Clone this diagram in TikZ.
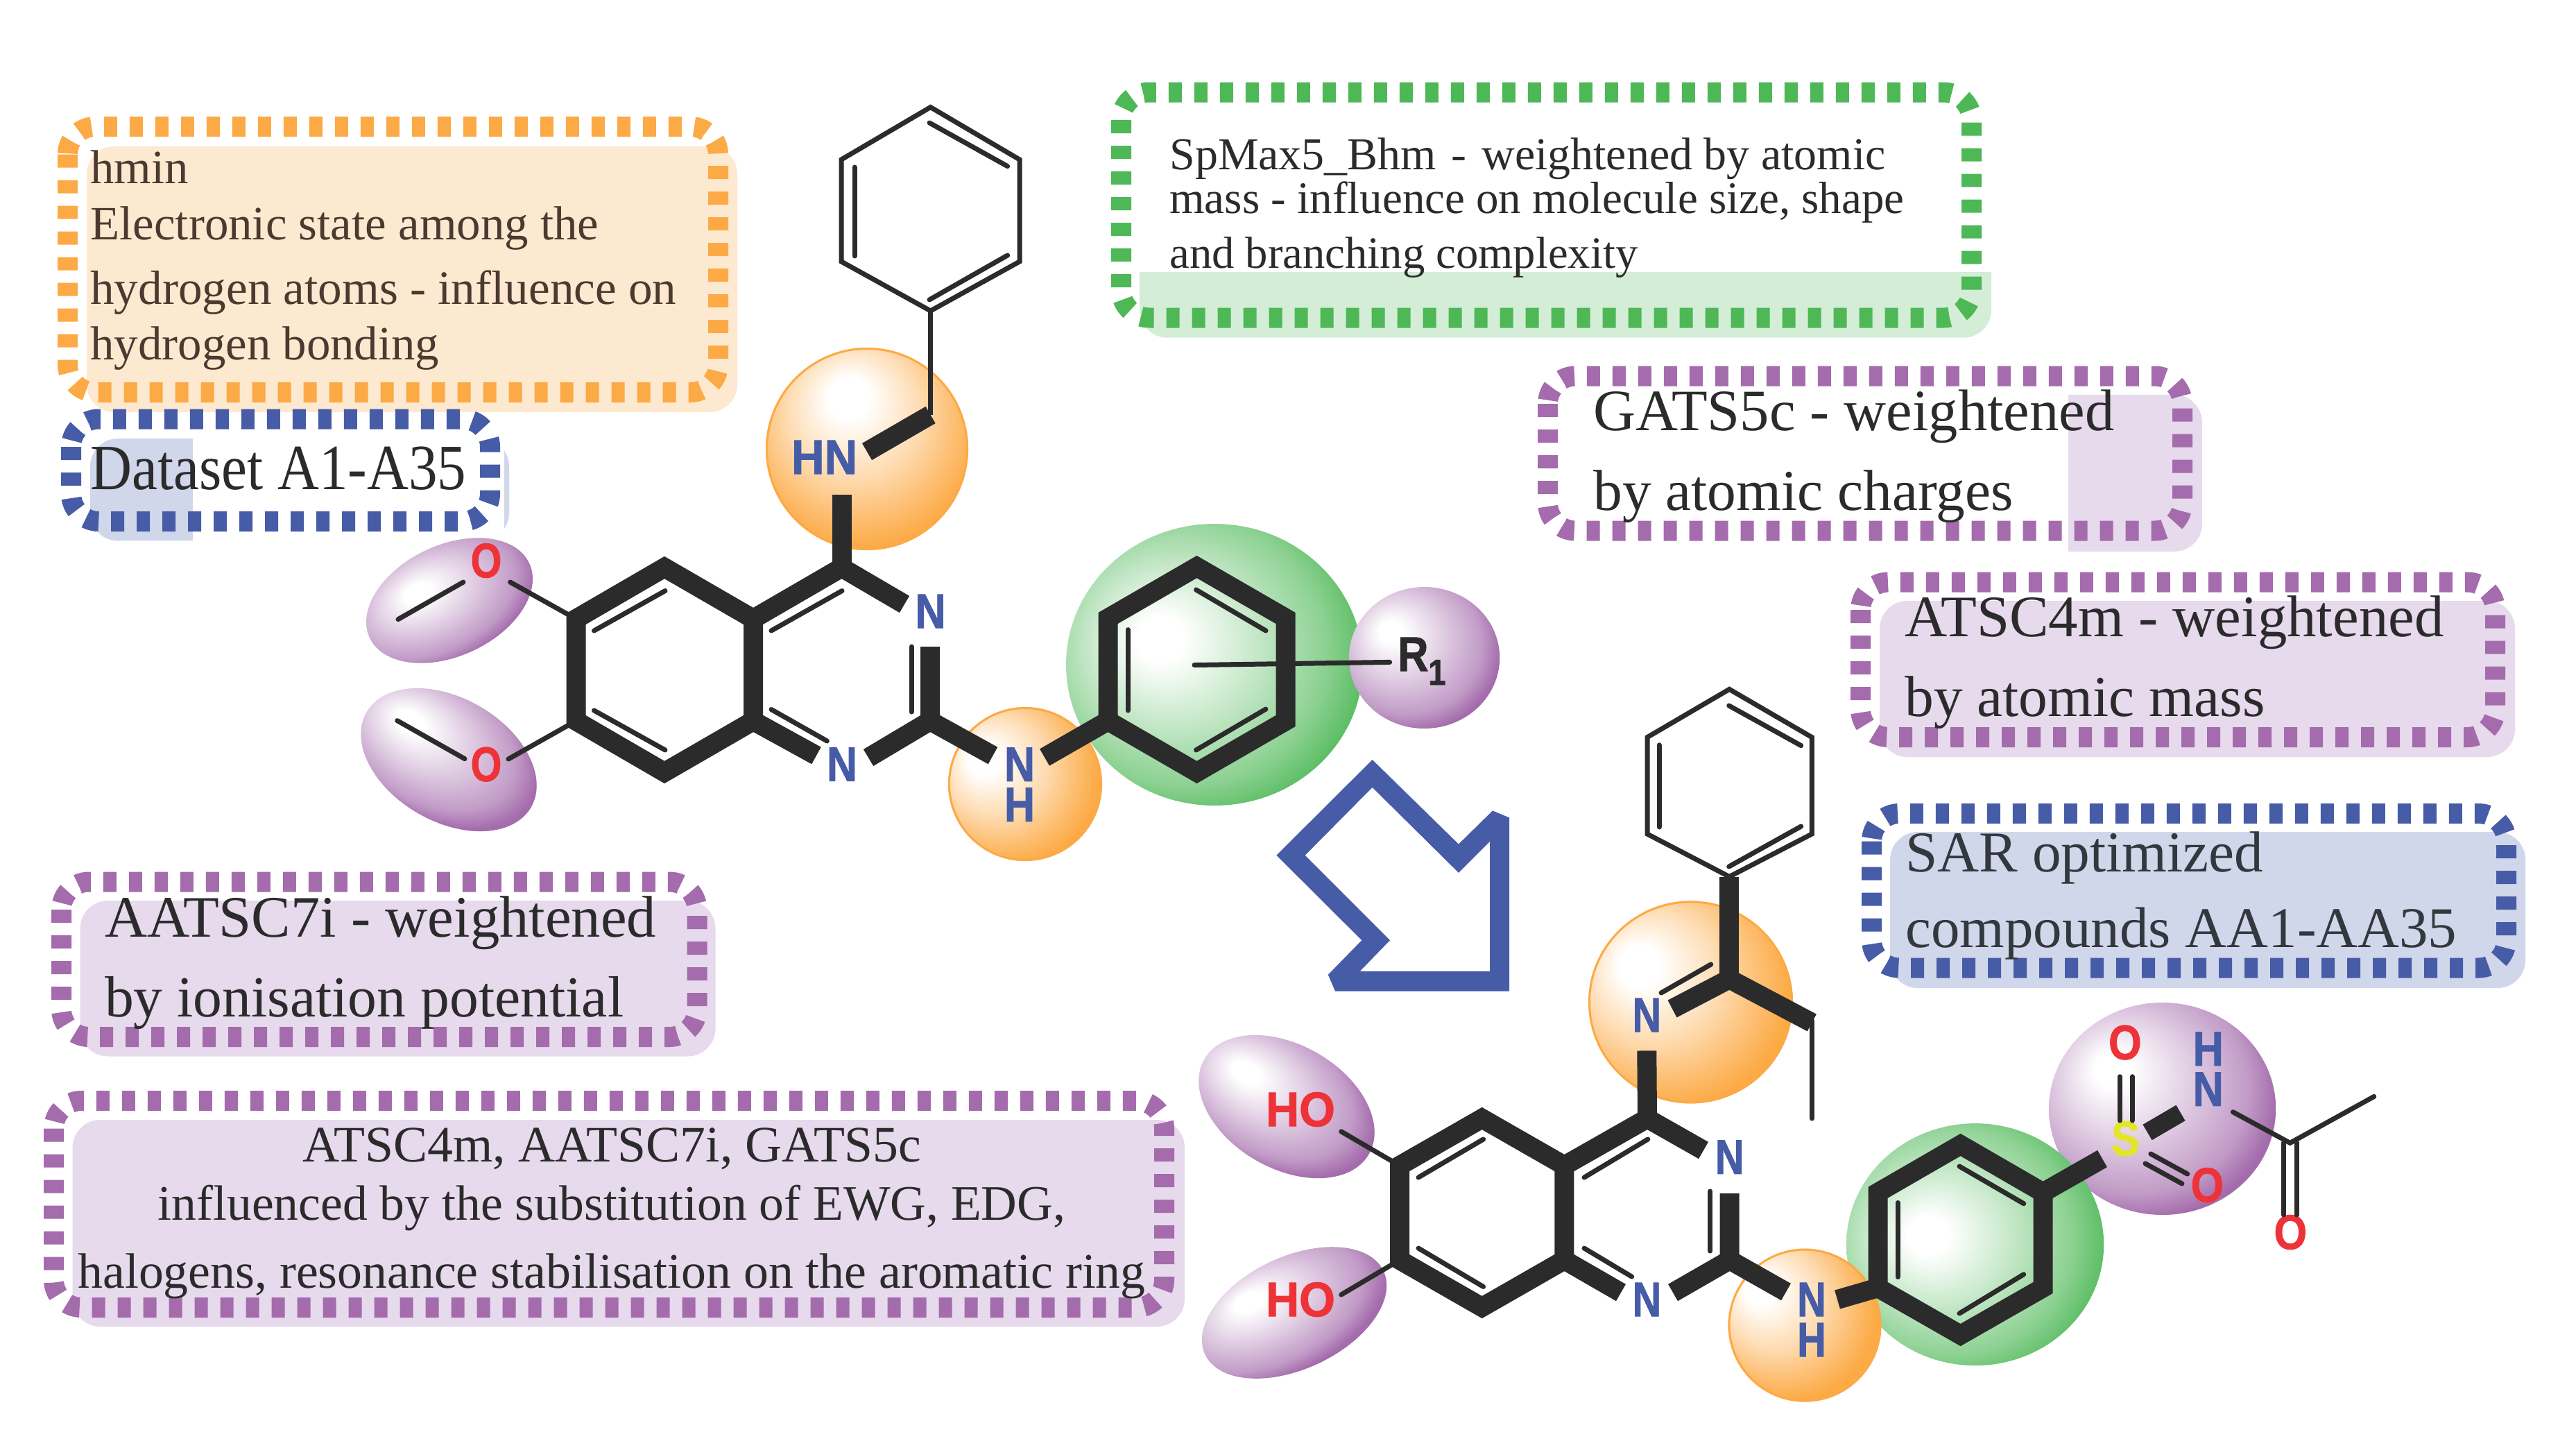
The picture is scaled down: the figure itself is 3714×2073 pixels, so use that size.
\documentclass[tikz,border=0pt]{standalone}
\usepackage{fontspec}
\usepackage{graphicx}
\setmainfont{Liberation Serif}
\newfontfamily\atomfont{Liberation Sans}[BoldFont={Liberation Sans Bold},BoldFeatures={FakeBold=1.5}]
\definecolor{cOrange}{HTML}{FCAA45}
\definecolor{cOrangeF}{HTML}{FDE9D0}
\definecolor{cBlue}{HTML}{475CA7}
\definecolor{cBlueF}{HTML}{D1D7EA}
\definecolor{cGreen}{HTML}{4EB857}
\definecolor{cGreenF}{HTML}{D3EDD6}
\definecolor{cPurple}{HTML}{A46CAC}
\definecolor{cPurpleF}{HTML}{E6DAEC}
\definecolor{cInk}{HTML}{2B2B2B}
\definecolor{cBrown}{HTML}{4A3A30}
\definecolor{cSlate}{HTML}{33383F}
\definecolor{cRed}{HTML}{EE3338}
\definecolor{cYellow}{HTML}{E3E528}
\newcommand\orangeshade[3]{\pgfdeclareradialshading{#1}{\pgfpoint{#2bp}{#3bp}}{color(0bp)=(white);color(5bp)=(white);color(16bp)=(cOrange!40!white);color(24bp)=(cOrange!75!white);color(30bp)=(cOrange);color(50bp)=(cOrange)}}
\newcommand\greenshade[3]{\pgfdeclareradialshading{#1}{\pgfpoint{#2bp}{#3bp}}{color(0bp)=(white);color(4bp)=(white);color(14bp)=(cGreen!32!white);color(24bp)=(cGreen!65!white);color(31bp)=(cGreen);color(50bp)=(cGreen)}}
\newcommand\purpleshade[3]{\pgfdeclareradialshading{#1}{\pgfpoint{#2bp}{#3bp}}{color(0bp)=(white);color(4bp)=(white);color(15bp)=(cPurple!35!white);color(25bp)=(cPurple!68!white);color(30bp)=(cPurple);color(50bp)=(cPurple)}}
\orangeshade{oA}{-5}{14}
\orangeshade{oB}{-15}{9}
\orangeshade{oC}{-14}{10}
\orangeshade{oD}{-16}{13}
\greenshade{gA}{-10}{5}
\greenshade{gB}{-10}{2}
\purpleshade{pA}{-8}{10}
\purpleshade{pB}{-15}{6}
\purpleshade{pC}{-12}{10}
\purpleshade{pD}{-15}{4}
\purpleshade{pE}{-10}{14}
% name, shading, cx, cy, rx, ry, angle
\newcommand\ballshape[7]{%
  \begin{scope}[transform canvas={shift={(#3,#4)},rotate=#7}]
    \pgfmathsetmacro\bx{#5*.5}\pgfmathsetmacro\by{#6*.5}
    \shade[shading=#2] (0pt,0pt) ellipse [x radius=\bx pt,y radius=\by pt];
  \end{scope}
  \coordinate (#1) at (#3,#4);}
% as \ballshape, with a thin rim
\newcommand\rimball[7]{%
  \ballshape{#1}{#2}{#3}{#4}{#5}{#6}{#7}%
  \draw[cOrange,line width=1.5pt] (#3,#4) ellipse [x radius=#5-1.5,y radius=#6-1.5];}
% name, x, y (baseline), width, colour, text
\newcommand\txtline[6]{\node[anchor=base west,inner sep=0pt,text=#5] (#1) at (#2,{#3+2.5})
  {\resizebox{\dimexpr #4pt/2\relax}{!}{\fontsize{34}{40}\selectfont #6}};}
% name, x, y, colour, text, horizontal scale
\newcommand\atomlbl[6]{\node[inner sep=0pt,text=#4,font=\atomfont\bfseries\fontsize{35}{35}\selectfont] (#1) at (#2,#3) {\scalebox{#6}[1]{#5}};}
% name, x, y of the stack centre, colour, horizontal scale: N above H
\newcommand\nhstack[5]{\node[inner sep=0pt,align=center,text=#4,font=\atomfont\bfseries\fontsize{35}{29}\selectfont] (#1) at (#2,#3) {\scalebox{#5}[1]{N}\\\scalebox{#5}[1]{H}};}
\newcommand\hnstack[5]{\node[inner sep=0pt,align=center,text=#4,font=\atomfont\bfseries\fontsize{35}{29}\selectfont] (#1) at (#2,#3) {\scalebox{#5}[1]{H}\\\scalebox{#5}[1]{N}};}
% colour, x1, y1, x2, y2
\newcommand\panelfill[5]{\fill[#1,rounded corners=20pt] (#2,#3) rectangle (#4,#5);}
\newcommand\panelframe[5]{\draw[#1,line width=14.5pt,rounded corners=20pt,dash pattern=on 9.5pt off 9pt] (#2,#3) rectangle (#4,#5);}
\tikzset{
  hb/.style={draw=cInk,line width=14pt,line cap=butt,line join=miter},
  lb/.style={draw=cInk,line width=3.5pt,line cap=round,line join=miter},
}
\begin{document}
\begin{tikzpicture}[x=.5pt,y=-.5pt]
\useasboundingbox (0,0) rectangle (3714,2073);
% ---- panel fills
\panelfill{cOrangeF}{125}{211}{1063}{594}
\begin{scope}\clip (120,620) rectangle (278,790);\panelfill{cBlueF}{130}{632}{734}{779.4}\end{scope}
\begin{scope}\clip (727,620) rectangle (740,790);\panelfill{cBlueF}{130}{632}{734}{779.4}\end{scope}
\begin{scope}\clip (1630,392) rectangle (2880,495);\panelfill{cGreenF}{1643}{300}{2871}{486.7}\end{scope}
\begin{scope}\clip (2982,560) rectangle (3180,800);\panelfill{cPurpleF}{2400}{569}{3175}{794.8}\end{scope}
\panelfill{cPurpleF}{2710}{866}{3626}{1091}
\panelfill{cBlueF}{2725}{1199}{3641}{1424}
\panelfill{cPurpleF}{115.6}{1298}{1031.5}{1522.5}
\panelfill{cPurpleF}{104.6}{1614}{1708}{1912}
% ---- panel frames
\panelframe{cOrange}{97.5}{182.5}{1035.5}{565.5}
\panelframe{cBlue}{102.5}{604}{706.5}{751.5}
\panelframe{cGreen}{1616.5}{133}{2842.5}{458}
\panelframe{cPurple}{2231.5}{542}{3146.5}{765}
\panelframe{cPurple}{2682.5}{839}{3597.5}{1062.5}
\panelframe{cBlue}{2698.5}{1172.5}{3613.5}{1395}
\panelframe{cPurple}{88.5}{1271}{1005}{1494.5}
\panelframe{cPurple}{77.5}{1586.5}{1678.5}{1884.5}
% ---- panel texts
\txtline{t1}{130}{262}{141.5}{cBrown}{hmin}
\txtline{t2}{130}{342.6}{733}{cBrown}{Electronic state among the}
\txtline{t3}{130}{436}{845}{cBrown}{hydrogen atoms - influence on}
\txtline{t4}{130}{516}{503}{cBrown}{hydrogen bonding}
\txtline{t5}{130}{703}{542}{cInk}{\scalebox{1}[1.12]{Dataset A1-A35}}
\txtline{t6}{1686}{242}{1032}{cInk}{SpMax5\_Bhm\hspace{.08em} - \hspace{.08em}weightened by atomic}
\txtline{t7}{1686}{305}{1059}{cInk}{mass - influence on molecule size, shape}
\txtline{t8}{1686}{384}{675}{cInk}{and branching complexity}
\txtline{t9}{2297}{618}{751}{cInk}{GATS5c - weightened}
\txtline{t10}{2297}{733}{605}{cInk}{by atomic charges}
\txtline{t11}{2746}{915}{777}{cInk}{ATSC4m - weightened}
\txtline{t12}{2746}{1030}{519}{cInk}{by atomic mass}
\txtline{t13}{2747}{1254}{516}{cSlate}{SAR optimized}
\txtline{t14}{2747}{1362.6}{795}{cSlate}{compounds AA1-AA35}
\txtline{t15}{150.7}{1348}{795}{cInk}{AATSC7i - weightened}
\txtline{t16}{150.7}{1463}{748}{cInk}{by ionisation potential}
\txtline{t17}{436}{1672}{892}{cInk}{ATSC4m, AATSC7i, GATS5c}
\txtline{t18}{227.5}{1755.7}{1308}{cInk}{influenced by the substitution of EWG, EDG,}
\txtline{t19}{112}{1854}{1539}{cInk}{halogens, resonance stabilisation on the aromatic ring}
% ---- balls
\ballshape{bOMeA}{pA}{648}{865.5}{127}{80}{25}
\ballshape{bOMeB}{pB}{647}{1095}{137}{89}{-30}
\ballshape{bHOA}{pD}{1855}{1595}{137}{89}{-30}
\ballshape{bHOB}{pE}{1866}{1892}{142}{81}{25}
\ballshape{bSul}{pC}{3117.6}{1598}{163.6}{153}{0}
\ballshape{bPhA}{gA}{1751}{958}{214}{203}{0}
\ballshape{bPhB}{gB}{2847.6}{1793.6}{185.6}{174.5}{0}
\ballshape{bRone}{pC}{2053.5}{948}{108.7}{102}{0}
\rimball{bNHA}{oA}{1250}{647}{146}{146}{0}
\rimball{bNHB}{oB}{1478}{1130}{111}{111}{0}
\rimball{bNHC}{oC}{2437.5}{1444.4}{147.5}{146}{0}
\rimball{bNHD}{oD}{2602}{1910}{110.5}{110.5}{0}
% ---- arrow
\fill[cBlue,even odd rule]
 (1978.6,1095) -- (2103,1216.6) -- (2152,1168.4) -- (2176,1178.5) -- (2176,1428.7) -- (1925,1428.7) -- (1914.8,1404.8) -- (1963.3,1355.2) -- (1840.3,1232.7) -- cycle
 (1978.6,1134.9) -- (2103,1257.9) -- (2148,1212.9) -- (2148,1399.8) -- (1960.7,1399.8) -- (2004,1355.2) -- (1881.6,1232.7) -- cycle;
% ---- molecule 1: atoms
\coordinate (a1) at (958,818);
\coordinate (a2) at (1086,892);
\coordinate (a3) at (1086,1039);
\coordinate (a4) at (958,1113);
\coordinate (a5) at (830.5,1039);
\coordinate (a6) at (830.5,892);
\coordinate (a7) at (1213.5,818);
\coordinate (a8) at (1341,1039);
\coordinate (p1) at (1725.5,817);
\coordinate (p2) at (1853.6,891);
\coordinate (p3) at (1853.6,1039);
\coordinate (p4) at (1725.5,1113);
\coordinate (p5) at (1597.5,1039);
\coordinate (p6) at (1597.5,891);
\coordinate (b1) at (1341.6,154.5);
\coordinate (b2) at (1470,230);
\coordinate (b3) at (1470,377);
\coordinate (b4) at (1341.6,448);
\coordinate (b5) at (1213,377);
\coordinate (b6) at (1213,230);
\coordinate (ch2) at (1341.6,598);
\atomlbl{nHN}{1188.6}{659}{cBlue}{HN}{.94}
\atomlbl{nNa}{1341.6}{881}{cBlue}{N}{.87}
\atomlbl{nNb}{1214}{1101.6}{cBlue}{N}{.87}
\nhstack{nNc}{1470}{1130.8}{cBlue}{.87}
\atomlbl{nOa}{701}{808}{cRed}{O}{.82}
\atomlbl{nOb}{701}{1101.6}{cRed}{O}{.82}
\node[anchor=base west,inner sep=0pt,text=cInk,font=\atomfont\bfseries\fontsize{35}{35}\selectfont] (nR) at (2015,967) {\scalebox{.87}[1]{R\raisebox{-10pt}{\fontsize{26}{26}\selectfont 1}}};
% ---- molecule 1: bonds
\draw[hb] (a1) -- (a2) -- (a3) -- (a4) -- (a5) -- (a6) -- cycle;
\draw[hb] (a2) -- (a7) -- (1304,871);
\draw[hb] (a7) -- (1213.5,713);
\draw[hb] (1341,932) -- (a8) -- (1252,1092);
\draw[hb] (a8) -- (1431.5,1089);
\draw[hb] (a3) -- (1177,1089);
\draw[hb] (p1) -- (p2) -- (p3) -- (p4) -- (p5) -- (p6) -- cycle;
\draw[hb] (p5) -- (1506,1091.5);
\draw[hb] (ch2) -- (1250,651);
\draw[lb] (b1) -- (b2) -- (b3) -- (b4) -- (b5) -- (b6) -- cycle;
\draw[lb,line cap=butt] (b4) -- (ch2);
\draw[lb] (1232,241) -- (1232,369);
\draw[lb] (1340,177) -- (1452.6,239.6);
\draw[lb] (1340,432) -- (1452.6,368);
\draw[lb] (856.5,909) -- (959,851.5);
\draw[lb] (856.5,1024) -- (959,1081);
\draw[lb] (1112,909) -- (1214,851.5);
\draw[lb] (1112,1022.5) -- (1192.4,1068);
\draw[lb] (1314,932) -- (1314,1026);
\draw[lb] (a6) -- (735.6,839);
\draw[lb] (668,839) -- (574,892.6);
\draw[lb] (a5) -- (733,1094);
\draw[lb] (670,1093.6) -- (572.7,1038.6);
\draw[lb] (1626,907.6) -- (1626,1024);
\draw[lb] (1724.5,850) -- (1825,909);
\draw[lb] (1724.5,1081) -- (1825,1022);
\draw[lb] (1722,958.5) -- (2003.6,954.4);
% ---- molecule 2: atoms
\coordinate (c1) at (2136.7,1612);
\coordinate (c2) at (2255.4,1680);
\coordinate (c3) at (2255.4,1816);
\coordinate (c4) at (2136.7,1884);
\coordinate (c5) at (2018,1816);
\coordinate (c6) at (2018,1680);
\coordinate (c7) at (2375,1612);
\coordinate (c8) at (2493.7,1816);
\coordinate (q1) at (2826.6,1650);
\coordinate (q2) at (2945.5,1718.7);
\coordinate (q3) at (2945.5,1856);
\coordinate (q4) at (2826.6,1924);
\coordinate (q5) at (2707.6,1856);
\coordinate (q6) at (2707.6,1718.7);
\coordinate (d1) at (2493.3,993.4);
\coordinate (d2) at (2612.3,1062.6);
\coordinate (d3) at (2612.3,1202);
\coordinate (d4) at (2493.3,1263.5);
\coordinate (d5) at (2375,1202);
\coordinate (d6) at (2375,1062.6);
\coordinate (imC) at (2493.3,1411);
\coordinate (acC) at (3301.7,1647.3);
\atomlbl{mN}{2374.3}{1463}{cBlue}{N}{.82}
\atomlbl{mNa}{2493.7}{1667.7}{cBlue}{N}{.82}
\atomlbl{mNb}{2374.4}{1873}{cBlue}{N}{.82}
\nhstack{mNc}{2612}{1902}{cBlue}{.82}
\atomlbl{mHOa}{1875}{1599}{cRed}{HO}{.95}
\atomlbl{mHOb}{1875}{1873}{cRed}{HO}{.95}
\atomlbl{mS}{3064.4}{1641}{cYellow}{S}{.87}
\atomlbl{mOa}{3063.8}{1502.5}{cRed}{O}{.87}
\atomlbl{mOb}{3182.4}{1708}{cRed}{O}{.87}
\hnstack{mNs}{3183.7}{1540.7}{cBlue}{.87}
\atomlbl{mOc}{3302.3}{1776}{cRed}{O}{.87}
% ---- molecule 2: bonds
\draw[hb] (c1) -- (c2) -- (c3) -- (c4) -- (c5) -- (c6) -- cycle;
\draw[hb] (c2) -- (c7) -- (2456,1658);
\draw[hb] (c7) -- (2374.3,1514.4);
\draw[hb] (2493.7,1720) -- (c8) -- (2412,1863);
\draw[hb] (c8) -- (2575,1862);
\draw[hb] (c3) -- (2337,1863);
\draw[hb] (q1) -- (q2) -- (q3) -- (q4) -- (q5) -- (q6) -- cycle;
\draw[hb] (q5) -- (2649,1873);
\draw[hb] (q2) -- (3031,1670);
\draw[hb] (d4) -- (imC);
\draw[hb] (2411,1454) -- (imC) -- (2612.3,1474);
\draw[lb] (d1) -- (d2) -- (d3) -- (d4) -- (d5) -- (d6) -- cycle;
\draw[lb] (2392,1073.8) -- (2392,1192);
\draw[lb] (2492.7,1017) -- (2596.7,1074.6);
\draw[lb] (2492.7,1249) -- (2596.7,1191);
\draw[lb] (2395,1431) -- (2466.7,1390);
\draw[lb] (2612.3,1471) -- (2612.3,1612);
\draw[lb] (2045,1697) -- (2138.6,1642);
\draw[lb] (2045,1799) -- (2138.6,1854.5);
\draw[lb] (2284,1697) -- (2375.8,1642);
\draw[lb] (2284,1799) -- (2352.6,1840);
\draw[lb] (2465.6,1717) -- (2465.6,1803);
\draw[lb] (c6) -- (1933.7,1630.8);
\draw[lb] (c5) -- (1933.7,1866);
\draw[lb] (2736,1733.4) -- (2736,1840.5);
\draw[lb] (2825,1681) -- (2917.7,1734.7);
\draw[lb] (2825,1893) -- (2917.7,1836.7);
\draw[lb] (3056,1551.7) -- (3056,1615);
\draw[lb] (3074,1551.7) -- (3074,1615);
\draw[lb] (3100.8,1663) -- (3153.7,1692);
\draw[lb] (3093,1677) -- (3146,1706);
\draw[hb,line width=13pt] (3096,1632) -- (3144,1604);
\draw[lb] (3219.4,1602.7) -- (acC) -- (3422.8,1580.4);
\draw[lb] (3292.7,1647) -- (3292.7,1751);
\draw[lb] (3311.2,1647) -- (3311.2,1751);
\end{tikzpicture}
\end{document}
